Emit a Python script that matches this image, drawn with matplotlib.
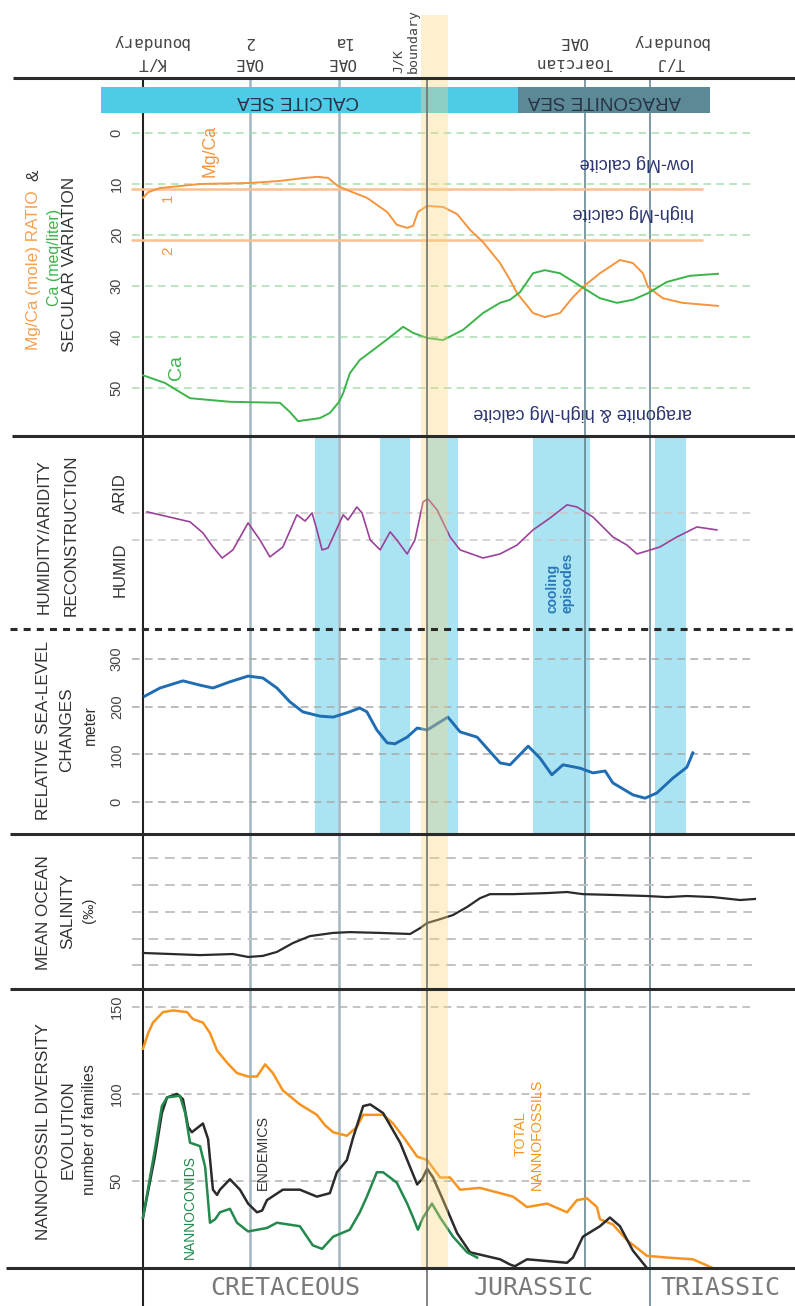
import numpy as np
import matplotlib
matplotlib.use('Agg')
import matplotlib.pyplot as plt

plt.rcParams['font.family'] = ['Liberation Sans', 'DejaVu Sans']
plt.rcParams['lines.solid_joinstyle'] = 'round'
MONO = ['DejaVu Sans Mono']

W, H = 795, 1306
PX_PER_MA = 3.7
X_LEFT = 66.0 - 143 / PX_PER_MA
X_RIGHT = X_LEFT + W / PX_PER_MA
LEFT = 128


def age_at(px):
    return X_LEFT + px / PX_PER_MA


def frac(py):
    return 1 - py / H


# time markers (Ma, as placed on the chart)
kt_age = 66.0
oae_ages = [94.9, 119.0]          # OAE 2, OAE 1a
jk_age = 142.8
toarcian_age = 185.5
tj_age = 203.0
jk_band = (141.1, 148.4)

sea_names = ['CALCITE SEA', 'ARAGONITE SEA']
sea_start = [54.6, 167.4]
sea_end = [167.4, 219.2]
sea_colors = ['#4fcbe8', '#5b8995']

cool_start = [112.5, 130.1, 142.8, 171.4, 204.4]
cool_end = [118.7, 138.2, 151.1, 186.8, 212.8]

# Mg/Ca & Ca secular variation
mg_lines = [11, 21]
mgca_age = [66.0, 67.4, 70.6, 81.4, 94.9, 103.0, 109.8, 113.3, 116.0, 118.7, 121.9,
            126.5, 132.0, 134.6, 137.4, 139.0, 140.3, 142.8, 147.1, 150.9, 154.4,
            157.9, 162.5, 165.2, 167.1, 171.4, 174.6, 178.7, 182.2, 184.9, 189.5,
            194.9, 198.4, 201.1, 202.5, 206.5, 211.8, 221.4]
mgca_val = [12.7, 11.6, 10.8, 10.0, 9.8, 9.4, 8.8, 8.6, 8.8, 10.4, 11.4,
            12.7, 15.5, 18.0, 18.6, 18.2, 15.5, 14.3, 14.5, 15.9, 19.0,
            21.4, 25.5, 28.8, 31.4, 35.3, 36.1, 35.3, 32.2, 30.2, 27.5,
            24.9, 25.5, 27.5, 30.2, 32.4, 33.3, 33.9]
ca_age = [66.0, 71.9, 78.7, 89.5, 103.0, 105.7, 107.9, 113.8, 116.5, 119.0, 120.1,
          121.9, 124.6, 129.2, 132.8, 136.3, 139.0, 142.8, 147.1, 152.5, 157.9,
          162.5, 165.2, 167.9, 171.4, 174.6, 178.7, 184.6, 189.5, 194.1, 198.4,
          202.5, 207.6, 213.8, 221.4]
ca_val = [47.5, 49.0, 52.0, 52.7, 52.9, 54.7, 56.5, 55.9, 54.9, 52.7, 51.0,
          47.1, 44.5, 42.0, 40.0, 38.0, 39.2, 40.2, 40.6, 38.6, 35.3,
          33.3, 32.7, 31.2, 27.5, 26.9, 27.5, 30.2, 32.4, 33.3, 32.7,
          31.4, 29.2, 28.0, 27.6]

# humidity / aridity (0 = humid line, 1 = arid line)
hum_age = [67.1, 78.7, 82.2, 84.9, 87.4, 90.3, 94.4, 97.6, 100.3, 103.8, 107.6,
           109.8, 111.7, 113.0, 114.4, 116.0, 120.1, 121.4, 123.8, 125.2, 127.4,
           130.1, 132.8, 134.6, 137.4, 139.5, 141.7, 143.0, 145.5, 149.0, 151.7,
           157.9, 162.5, 167.1, 171.4, 176.0, 180.6, 183.3, 187.6, 193.0, 196.8,
           199.5, 202.2, 205.7, 210.3, 215.7, 221.1]
hum_val = [1.04, 0.67, 0.26, -0.26, -0.67, -0.37, 0.63, 0.0, -0.63, -0.26, 0.93,
           0.70, 1.0, 0.37, -0.37, -0.30, 0.93, 0.74, 1.22, 1.0, 0.0,
           -0.37, 0.30, 0.0, -0.52, 0.0, 1.41, 1.52, 1.11, 0.11, -0.37,
           -0.67, -0.52, -0.19, 0.37, 0.81, 1.30, 1.22, 0.85, 0.11, -0.19,
           -0.52, -0.41, -0.26, 0.11, 0.48, 0.37]

# relative sea level (m)
sea_age = [66.5, 70.6, 76.8, 81.4, 84.9, 89.5, 94.4, 98.4, 102.2, 105.7, 109.2,
           113.8, 117.4, 121.1, 124.6, 126.5, 129.2, 132.0, 134.1, 137.4, 140.1,
           142.8, 148.4, 151.7, 156.3, 162.5, 165.2, 170.1, 173.3, 176.5, 179.5,
           184.1, 187.6, 190.9, 193.0, 198.4, 201.7, 204.9, 209.2, 213.0, 214.6]
sea_val = [222, 239, 254, 245, 239, 252, 264, 260, 239, 210, 189,
           180, 178, 187, 197, 189, 151, 124, 122, 136, 155,
           151, 178, 147, 136, 82, 78, 117, 92, 57, 78,
           71, 61, 65, 40, 15, 8, 19, 50, 73, 103]

# mean ocean salinity (relative units, grid lines 1..5)
sal_age = [66.0, 81.4, 90.3, 94.4, 98.4, 102.2, 106.5, 111.1, 117.4, 121.9, 130.1,
           138.2, 140.9, 142.8, 145.5, 149.8, 153.6, 157.1, 159.8, 166.0, 175.2,
           180.6, 184.9, 193.0, 202.2, 207.6, 213.0, 220.0, 227.4, 231.4]
sal_val = [1.46, 1.38, 1.42, 1.31, 1.35, 1.50, 1.83, 2.09, 2.21, 2.24, 2.21,
           2.17, 2.39, 2.58, 2.69, 2.88, 3.18, 3.51, 3.66, 3.66, 3.70,
           3.74, 3.66, 3.63, 3.59, 3.55, 3.59, 3.55, 3.44, 3.48]

# nannofossil diversity (number of families)
tot_age = [66.0, 67.4, 68.7, 71.4, 74.1, 77.9, 79.5, 82.2, 84.1, 86.0, 88.7,
           91.4, 94.4, 96.8, 99.0, 101.1, 103.8, 108.4, 113.0, 115.2, 117.4,
           121.1, 123.8, 125.5, 130.9, 133.6, 136.8, 140.1, 142.8, 146.3, 149.0,
           151.7, 157.1, 162.5, 166.0, 169.8, 175.2, 180.6, 183.3, 186.0, 188.7,
           189.5, 193.0, 196.8, 202.2, 207.6, 214.6, 220.0]
tot_val = [126, 135, 141, 147, 148, 147, 143, 141, 135, 125, 118,
           112, 110, 110, 117, 112, 102, 94, 88, 82, 78,
           76, 81, 88, 88, 83, 74, 64, 62, 52, 52,
           45, 46, 43, 41, 35, 37, 32, 39, 40, 35,
           28, 25, 16, 7, 6, 5, 0]
end_age = [66.0, 69.2, 71.1, 72.5, 75.2, 76.8, 78.2, 79.2, 82.2, 83.6, 84.9,
           86.0, 86.8, 89.5, 92.2, 94.4, 96.8, 98.2, 99.5, 103.8, 108.4,
           113.0, 116.5, 118.4, 121.1, 122.8, 125.5, 127.4, 130.9, 135.5, 140.1,
           141.4, 142.8, 144.4, 147.1, 150.9, 154.4, 162.5, 165.2, 166.5, 169.8,
           180.6, 182.2, 184.9, 189.5, 192.2, 194.9, 198.4, 202.2]
end_val = [29, 64, 89, 98, 100, 97, 81, 78, 83, 74, 45,
           42, 45, 51, 45, 37, 32, 33, 39, 45, 45,
           41, 43, 55, 62, 75, 93, 94, 89, 72, 48,
           51, 57, 52, 39, 20, 9, 5, 2, 1, 5,
           3, 6, 18, 24, 29, 24, 10, 0]
nc_age = [66.0, 69.2, 71.1, 72.5, 76.0, 77.4, 78.7, 81.4, 82.8, 84.1, 85.5,
          86.8, 89.5, 91.4, 94.4, 99.5, 102.2, 108.4, 111.9, 114.4, 117.4,
          121.9, 124.6, 126.5, 129.2, 130.9, 134.6, 137.4, 139.0, 140.3, 141.7,
          144.1, 146.3, 149.8, 153.6, 156.3]
nc_val = [29, 68, 93, 98, 99, 89, 72, 70, 58, 26, 28,
          32, 34, 26, 21, 23, 26, 24, 13, 11, 18,
          22, 32, 41, 55, 55, 49, 37, 29, 22, 29,
          37, 29, 18, 9, 6]

fig = plt.figure(figsize=(W / 100, H / 100), dpi=100)

# background: cooling bands, event lines, sea bars (x = age, y = pixel rows)
bg = fig.add_axes([0, 0, 1, 1], zorder=0)
bg.set_xlim(X_LEFT, X_RIGHT)
bg.set_ylim(H, 0)
bg.axis('off')
for a0, a1 in zip(cool_start, cool_end):
    bg.axvspan(a0, a1, ymin=frac(834), ymax=frac(436), color='#aae3f2', lw=0, zorder=1)
bg.vlines(kt_age, 78, H, color='#222222', lw=1.5, zorder=2)
bg.vlines(oae_ages, 78, 1268, color='#a2b6c0', lw=1.8, zorder=2)
bg.vlines(toarcian_age, 78, 1268, color='#5d7f8b', lw=1.1, zorder=2)
bg.vlines(tj_age, 78, H, color='#5d7f8b', lw=1.1, zorder=2)
bg.barh(100, np.subtract(sea_end, sea_start), left=sea_start, height=26,
        color=sea_colors, zorder=3)

grid_x = (age_at(132), age_at(752))
dash = (0, (5, 3.5))


def panel(top, bottom, ylim):
    ax = fig.add_axes([LEFT / W, frac(bottom), 1 - LEFT / W, (bottom - top) / H], zorder=1)
    ax.set_xlim(age_at(LEFT), X_RIGHT)
    ax.set_ylim(*ylim)
    ax.patch.set_visible(False)
    for s in ax.spines.values():
        s.set_visible(False)
    ax.set_xticks([])
    ax.set_yticks([])
    ax.tick_params(axis='y', length=0, pad=3, labelsize=10.5, labelcolor='#444444')
    return ax


def yticks(ax, vals):
    ax.set_yticks(vals)
    ax.set_yticklabels([str(v) for v in vals], rotation=90, va='center')


# Mg/Ca & Ca
ax1 = panel(113, 436, (59.41, -3.92))
ax1.hlines(np.arange(0, 60, 10), *grid_x, colors='#a9dcb1', lw=1.1, linestyles=dash)
ax1.hlines(mg_lines, age_at(131), age_at(703), colors='#fbbf91', lw=1.8)
ax1.plot(mgca_age, mgca_val, color='#f7943e', lw=1.4)
ax1.plot(ca_age, ca_val, color='#3bb54a', lw=1.4)
yticks(ax1, list(range(0, 60, 10)))

# humidity
ax2 = panel(436, 629, (-3.30, 3.85))
ax2.hlines([0, 1], *grid_x, colors='#c8c8c8', lw=1.1, linestyles=dash)
ax2.plot(hum_age, hum_val, color='#9c4199', lw=1.2)

# sea level
ax3 = panel(629, 834, (-67.1, 362.7))
ax3.hlines([0, 100, 200, 300], *grid_x, colors='#a9a9a9', lw=1.1, linestyles=dash)
ax3.plot(sea_age, sea_val, color='#1f6db3', lw=2.1)
yticks(ax3, [0, 100, 200, 300])

# salinity
ax4 = panel(834, 989, (0.112, 5.91))
ax4.hlines([1, 2, 3, 4, 5], *grid_x, colors='#c3c3c3', lw=1.4, linestyles=dash)
ax4.plot(sal_age, sal_val, color='#2a2a2a', lw=1.6)

# nannofossils
ax5 = panel(989, 1280, (-6.9, 160.3))
ax5.hlines([50, 100, 150], *grid_x, colors='#b3b3b3', lw=1.1, linestyles=dash)
ax5.plot(tot_age, tot_val, color='#f7941d', lw=1.8)
ax5.plot(end_age, end_val, color='#2b2b2b', lw=1.8)
ax5.plot(nc_age, nc_val, color='#23894d', lw=1.8)
yticks(ax5, [50, 100, 150])

# foreground: J/K band and line
fg = fig.add_axes([0, 0, 1, 1], zorder=2)
fg.set_xlim(X_LEFT, X_RIGHT)
fg.set_ylim(H, 0)
fg.axis('off')
fg.axvspan(*jk_band, ymin=frac(1268), ymax=frac(15), color='#f9d67c', alpha=0.36, lw=0)
fg.vlines(jk_age, 78, H, color='#707070', lw=1.2)

# layout layer: separators and labels (pixel coordinates)
lay = fig.add_axes([0, 0, 1, 1], zorder=3)
lay.set_xlim(0, W)
lay.set_ylim(H, 0)
lay.axis('off')
for y, x0 in [(78, 13), (436, 12), (834, 10), (989, 10), (1268, 6)]:
    lay.plot([x0, W], [y, y], color='#2a2a2a', lw=2.2, solid_capstyle='butt')
lay.plot([10, W], [629, 629], color='#2a2a2a', lw=2.2, linestyle=(0, (2.3, 2.0)))


def txt(x, y, s, size=12.3, color='#333333', rot=90, **kw):
    lay.text(x, y, s, fontsize=size, color=color, rotation=rot,
             ha='center', va='center', **kw)


# header labels (upside down in the original)
for x, s in [(150, 'K/T\nboundary'), (249, 'OAE\n2'), (342, 'OAE\n1a'),
             (574, 'Toarcian\nOAE'), (670, 'T/J\nboundary')]:
    txt(x, 52, s, size=11.5, color='#444444', rot=180, family=MONO, linespacing=1.45)
txt(406, 41, 'J/K\nboundary', size=9.5, color='#444444', rot=90, family=MONO,
    multialignment='left', linespacing=1.15)
txt(298, 100, sea_names[0], size=13.5, color='#283445', rot=180)
txt(604, 100, sea_names[1], size=13.5, color='#283445', rot=180)

# panel titles
txt(34, 270, 'Mg/Ca (mole) RATIO', color='#f7a050')
txt(34, 175, '&')
txt(54, 257, 'Ca (meq/liter)', size=11.5, color='#3bb54a')
txt(70, 264, 'SECULAR VARIATION')
txt(44, 537, 'HUMIDITY/ARIDITY')
txt(71, 535, 'RECONSTRUCTION')
txt(120, 493, 'ARID', size=12)
txt(120, 570, 'HUMID', size=12)
txt(44, 731, 'RELATIVE SEA-LEVEL')
txt(67, 730, 'CHANGES')
txt(90, 725, 'meter', size=11.2)
txt(43, 913, 'MEAN OCEAN')
txt(68, 911, 'SALINITY')
txt(89, 910, '(‰)', size=11)
txt(44, 1132, 'NANNOFOSSIL DIVERSITY')
txt(68, 1130, 'EVOLUTION')
txt(90, 1130, 'number of families', size=11.5)

# in-panel annotations
txt(210, 151, 'Mg/Ca', size=12.7, color='#f7943e')
txt(168, 198, '1', size=11, color='#f7943e')
txt(168, 251, '2', size=11, color='#f7943e')
txt(177, 367, 'Ca', size=14, color='#3bb54a')
txt(637, 163, 'low-Mg calcite', size=13, color='#2d3570', rot=180)
txt(633, 212, 'high-Mg calcite', size=13, color='#2d3570', rot=180)
txt(583, 412, 'aragonite & high-Mg calcite', size=13, color='#2d3570', rot=180)
txt(560, 583, 'cooling\nepisodes', size=10, color='#2a7ab8', weight='bold',
    multialignment='left', linespacing=1.1)
txt(190, 1207, 'NANNOCONIDS', size=10, color='#23894d')
txt(263, 1152, 'ENDEMICS', size=10.3)
txt(529, 1134, 'TOTAL\nNANNOFOSSILS', size=10.3, color='#f7941d', linespacing=1.2)

# era names along the bottom
for x, s in [(285, 'CRETACEOUS'), (534, 'JURASSIC'), (720, 'TRIASSIC')]:
    txt(x, 1288, s, size=18, color='#7a7a7a', rot=0, family=MONO)

fig.savefig('out.png', dpi=100)
